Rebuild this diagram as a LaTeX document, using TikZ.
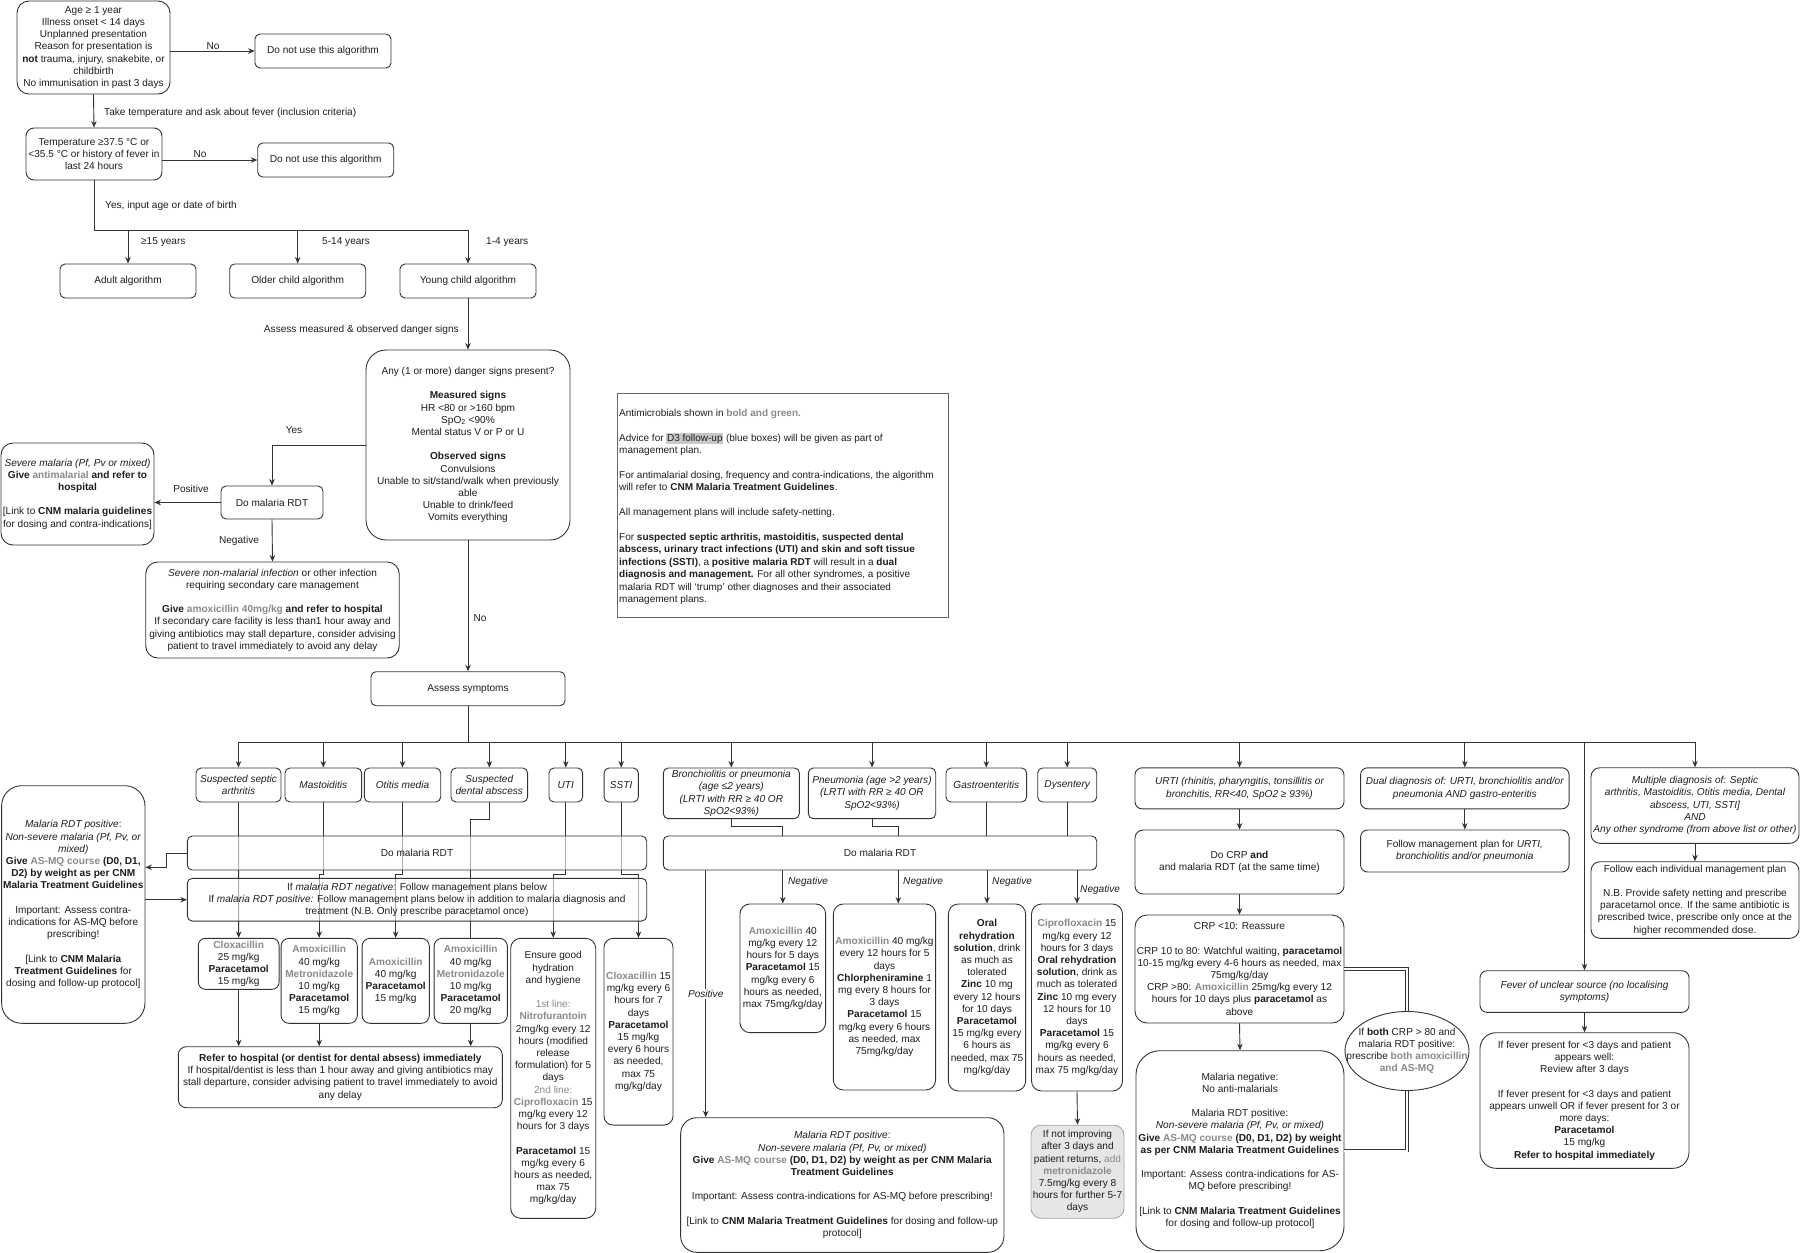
\documentclass[tikz,border=0pt]{standalone}
\usepackage{fontspec}
\setmainfont{Liberation Sans}
\usetikzlibrary{arrows.meta,shapes.geometric,backgrounds}

\definecolor{ink}{HTML}{1E1E1E}
\definecolor{edge}{HTML}{333333}
\definecolor{drugc}{HTML}{8A8A8A}
\definecolor{hilite}{HTML}{C8C8C8}
\definecolor{greyfill}{HTML}{E6E6E6}
\definecolor{legbord}{HTML}{666666}

\newcommand{\boxfont}{\fontsize{10.1}{12.2}\selectfont}
\newcommand{\drug}[1]{\textbf{\color{drugc}#1}}

\begin{document}
\begin{tikzpicture}[x=1pt, y=-1pt,
    box/.style={draw=edge, line width=0.9pt, rounded corners=5pt, fill=white, align=center, font=\boxfont, text=ink, inner sep=1pt},
    cat/.style={box, font=\boxfont\itshape},
    dim/.style 2 args={minimum width=#1pt, minimum height=#2pt},
    seethru/.style={fill opacity=0.6, text opacity=1},
    conn/.style={draw=edge, line width=0.9pt},
    arr/.style={conn, -{Stealth[length=6.5pt,width=5.5pt]}},
    dbl/.style={draw=edge, line width=0.6pt, double=white, double distance=2.2pt},
    lab/.style={font=\boxfont, text=ink, inner sep=1pt},
  ]
  \useasboundingbox (0,0) rectangle (1800,1253);

    \node[box, rounded corners=12pt, dim={153}{93}] (crit) at (93.5, 47.5) {Age ≥ 1 year\\ Illness onset < 14 days\\ Unplanned presentation\\ Reason for presentation is\\ \textbf{not} trauma, injury, snakebite, or\\ childbirth\\ No immunisation in past 3 days};
    \node[box, dim={136}{34}] (nouse1) at (323, 51) {Do not use this algorithm};
    \node[box, rounded corners=8pt, dim={136}{52}] (temp) at (94, 154) {Temperature ≥37.5 °C or\\ <35.5 °C or history of fever in\\ last 24 hours};
    \node[box, dim={136}{34}] (nouse2) at (325.7, 160) {Do not use this algorithm};

    \node[box, dim={136}{34}] (adult) at (128, 281) {Adult algorithm};
    \node[box, dim={136}{34}] (older) at (297.7, 281) {Older child algorithm};
    \node[box, dim={136}{34}] (young) at (468, 281) {Young child algorithm};

    \node[box, rounded corners=20pt, dim={204}{190}] (danger) at (468, 445) {Any (1 or more) danger signs present?\\[12.2pt] \textbf{Measured signs}\\ HR <80 or >160 bpm\\ SpO\textsubscript{2} <90\%\\ Mental status V or P or U\\[12.2pt] \textbf{Observed signs}\\ Convulsions\\ Unable to sit/stand/walk when previously\\ able\\ Unable to drink/feed\\ Vomits everything};
    \node[box, dim={102}{33}] (rdt) at (272, 502.5) {Do malaria RDT};
    \node[box, rounded corners=12pt, dim={153}{102}] (sevmal) at (77.5, 494) {\textit{Severe malaria (Pf, Pv or mixed)}\\ \textbf{Give \drug{antimalarial} and refer to}\\ \textbf{hospital}\\[12.2pt] {[}Link to \textbf{CNM malaria guidelines}\\ for dosing and contra-indications]};
    \node[box, rounded corners=12pt, dim={253.5}{96}] (sevnon) at (272.5, 610) {\textit{Severe non-malarial infection} or other infection\\ requiring secondary care management\\[12.2pt] \textbf{Give \drug{amoxicillin 40mg/kg} and refer to hospital}\\ If secondary care facility is less than1 hour away and\\ giving antibiotics may stall departure, consider advising\\ patient to travel immediately to avoid any delay};
    \node[box, dim={194}{34}] (assess) at (468, 688.7) {Assess symptoms};

    \node[draw=legbord, line width=0.9pt, dim={331}{224}] (legend) at (782.5, 505) {};
    \node[anchor=north west, inner sep=0pt, align=left, font=\fontsize{10}{12.4}\selectfont, text=ink] (legtext) at (619, 409) {Antimicrobials shown in \drug{bold and green.}\\[12.4pt]
      Advice for {\setlength{\fboxsep}{0.6pt}\colorbox{hilite}{D3 follow-up}} (blue boxes) will be given as part of\\
      management plan.\\[12.4pt]
      For antimalarial dosing, frequency and contra-indications, the algorithm\\
      will refer to \textbf{CNM Malaria Treatment Guidelines}.\\[12.4pt]
      All management plans will include safety-netting.\\[12.4pt]
      For \textbf{suspected septic arthritis, mastoiditis, suspected dental}\\
      \textbf{abscess, urinary tract infections (UTI) and skin and soft tissue}\\
      \textbf{infections (SSTI)}, a \textbf{positive malaria RDT} will result in a \textbf{dual}\\
      \textbf{diagnosis and management.} For all other syndromes, a positive\\
      malaria RDT will `trump' other diagnoses and their associated\\
      management plans.};

    \node[cat, dim={85}{34}] (septic) at (238.5, 785) {Suspected septic\\ arthritis};
    \node[cat, dim={76.7}{34}] (mast) at (323.3, 785) {Mastoiditis};
    \node[cat, dim={76.4}{34}] (otitis) at (402.5, 785) {Otitis media};
    \node[cat, dim={76.7}{34}] (dental) at (489.3, 785) {Suspected\\ dental abscess};
    \node[cat, dim={33.7}{34}] (uti) at (565.8, 785) {UTI};
    \node[cat, dim={34.3}{34}] (ssti) at (621.2, 785) {SSTI};
    \node[cat, dim={136}{50.7}] (bronch) at (731.3, 793.3) {Bronchiolitis or pneumonia\\ (age ≤2 years)\\ (LRTI with RR ≥ 40 OR\\ SpO2<93\%)};
    \node[cat, dim={127.4}{50.7}] (pneu) at (872, 793.3) {Pneumonia (age >2 years)\\ (LRTI with RR ≥ 40 OR\\ SpO2<93\%)};
    \node[cat, dim={80.7}{34}] (gastro) at (986.3, 785) {Gastroenteritis};
    \node[cat, dim={59}{34}] (dysen) at (1067.2, 785) {Dysentery};
    \node[cat, rounded corners=7pt, dim={209}{41}] (urti) at (1239.5, 788.3) {URTI (rhinitis, pharyngitis, tonsillitis or\\ bronchitis, RR<40, SpO2 ≥ 93\%)};
    \node[cat, rounded corners=7pt, dim={208.5}{41}] (dual) at (1464.8, 788.3) {Dual diagnosis of: URTI, bronchiolitis and/or\\ pneumonia AND gastro-enteritis};
    \node[cat, rounded corners=9pt, dim={208}{75.6}] (multi) at (1695, 805.5) {Multiple diagnosis of: Septic\\ arthritis, Mastoiditis, Otitis media, Dental\\ abscess, UTI, SSTI]\\ AND\\ Any other syndrome (from above list or other)};

    \node[box, seethru, dim={459.4}{34}] (rdt1) at (417, 853) {Do malaria RDT};
    \node[box, seethru, dim={459.4}{42.7}] (note) at (417, 899.7) {If \textit{malaria RDT negative:} Follow management plans below\\ If \textit{malaria RDT positive:} Follow management plans below in addition to malaria diagnosis and\\ treatment (N.B. Only prescribe paracetamol once)};
    \node[box, rounded corners=20pt, dim={143.3}{237.6}] (malL) at (73.3, 904.5) {\textit{Malaria RDT positive}:\\ \textit{Non-severe malaria (Pf, Pv, or}\\ \textit{mixed)}\\ \textbf{Give \drug{AS-MQ course} (D0, D1,}\\ \textbf{D2) by weight as per CNM}\\ \textbf{Malaria Treatment Guidelines}\\[12.2pt] Important: Assess contra-\\ indications for AS-MQ before\\ prescribing!\\[12.2pt] {[}Link to \textbf{CNM Malaria}\\ \textbf{Treatment Guidelines} for\\ dosing and follow-up protocol]};

    \node[box, rounded corners=7pt, dim={80.7}{51}] (clox) at (238.7, 963.8) {\drug{Cloxacillin}\\ 25 mg/kg\\ \textbf{Paracetamol}\\ 15 mg/kg};
    \node[box, rounded corners=8pt, dim={76.3}{85}] (amoxmet) at (319.2, 980.8) {\drug{Amoxicillin}\\ 40 mg/kg\\ \drug{Metronidazole}\\ 10 mg/kg\\ \textbf{Paracetamol}\\ 15 mg/kg};
    \node[box, rounded corners=8pt, dim={67.3}{85}] (amoxpar) at (395.7, 980.8) {\drug{Amoxicillin}\\ 40 mg/kg\\ \textbf{Paracetamol}\\ 15 mg/kg};
    \node[box, rounded corners=8pt, dim={73.3}{85}] (dentrx) at (470.7, 980.8) {\drug{Amoxicillin}\\ 40 mg/kg\\ \drug{Metronidazole}\\ 10 mg/kg\\ \textbf{Paracetamol}\\ 20 mg/kg};
    \node[box, rounded corners=10pt, dim={85}{280}] (utirx) at (553.2, 1078.3) {Ensure good\\ hydration\\ and hygiene\\[12.2pt] {\color{drugc}1st line:}\\ \drug{Nitrofurantoin}\\ 2mg/kg every 12\\ hours (modified\\ release\\ formulation) for 5\\ days\\ {\color{drugc}2nd line:}\\ \drug{Ciprofloxacin} 15\\ mg/kg every 12\\ hours for 3 days\\[12.2pt] \textbf{Paracetamol} 15\\ mg/kg every 6\\ hours as needed,\\ max 75\\ mg/kg/day};
    \node[box, rounded corners=9pt, dim={69}{186.7}] (sstirx) at (638.5, 1031.7) {\drug{Cloxacillin} 15\\ mg/kg every 6\\ hours for 7\\ days\\ \textbf{Paracetamol}\\ 15 mg/kg\\ every 6 hours\\ as needed,\\ max 75\\ mg/kg/day};
    \node[box, rounded corners=8pt, dim={324}{61}] (refer) at (340.3, 1077.2) {\textbf{Refer to hospital (or dentist for dental absess) immediately}\\ If hospital/dentist is less than 1 hour away and giving antibiotics may\\ stall departure, consider advising patient to travel immediately to avoid\\ any delay};

    \node[box, dim={433.4}{34}] (rdt2) at (880, 853) {Do malaria RDT};
    \node[box, rounded corners=10pt, dim={85.7}{128.7}] (amoxrx) at (782.8, 968.3) {\drug{Amoxicillin} 40\\ mg/kg every 12\\ hours for 5 days\\ \textbf{Paracetamol} 15\\ mg/kg every 6\\ hours as needed,\\ max 75mg/kg/day};
    \node[box, rounded corners=10pt, dim={102.3}{186}] (chlorrx) at (884.5, 997) {\drug{Amoxicillin} 40 mg/kg\\ every 12 hours for 5\\ days\\ \textbf{Chlorpheniramine} 1\\ mg every 8 hours for\\ 3 days\\ \textbf{Paracetamol} 15\\ mg/kg every 6 hours\\ as needed, max\\ 75mg/kg/day};
    \node[box, rounded corners=10pt, dim={77.3}{187}] (orsrx) at (987, 997.5) {\textbf{Oral}\\ \textbf{rehydration}\\ \textbf{solution}, drink\\ as much as\\ tolerated\\ \textbf{Zinc} 10 mg\\ every 12 hours\\ for 10 days\\ \textbf{Paracetamol}\\ 15 mg/kg every\\ 6 hours as\\ needed, max 75\\ mg/kg/day};
    \node[box, rounded corners=10pt, dim={91}{187}] (ciprorx) at (1077, 997.5) {\drug{Ciprofloxacin} 15\\ mg/kg every 12\\ hours for 3 days\\ \textbf{Oral rehydration}\\ \textbf{solution}, drink as\\ much as tolerated\\ \textbf{Zinc} 10 mg every\\ 12 hours for 10\\ days\\ \textbf{Paracetamol} 15\\ mg/kg every 6\\ hours as needed,\\ max 75 mg/kg/day};
    \node[box, draw=gray!70, fill=greyfill, rounded corners=10pt, dim={93}{93}] (greyrx) at (1077.5, 1171.7) {If not improving\\ after 3 days and\\ patient returns, {\color{drugc}add}\\ \drug{metronidazole}\\ 7.5mg/kg every 8\\ hours for further 5-7\\ days};
    \node[box, rounded corners=16pt, dim={323.3}{134.6}] (malpos) at (842.3, 1185) {\textit{Malaria RDT positive}:\\ \textit{Non-severe malaria (Pf, Pv, or mixed)}\\ \textbf{Give \drug{AS-MQ course} (D0, D1, D2) by weight as per CNM Malaria}\\ \textbf{Treatment Guidelines}\\[12.2pt] Important: Assess contra-indications for AS-MQ before prescribing!\\[12.2pt] {[}Link to \textbf{CNM Malaria Treatment Guidelines} for dosing and follow-up\\ protocol]};

    \node[box, rounded corners=8pt, dim={209}{64}] (crp) at (1239.5, 862) {Do CRP \textbf{and}\\ and malaria RDT (at the same time)};
    \node[box, rounded corners=12pt, dim={209}{108}] (crpres) at (1239.5, 969) {CRP <10: Reassure\\[12.2pt] CRP 10 to 80: Watchful waiting, \textbf{paracetamol}\\ 10-15 mg/kg every 4-6 hours as needed, max\\ 75mg/kg/day\\ CRP >80: \drug{Amoxicillin} 25mg/kg every 12\\ hours for 10 days plus \textbf{paracetamol} as\\ above};
    \node[box, rounded corners=24pt, dim={208}{200}] (malneg) at (1240, 1150.7) {Malaria negative:\\ No anti-malarials\\[12.2pt] Malaria RDT positive:\\ \textit{Non-severe malaria (Pf, Pv, or mixed)}\\ \textbf{Give \drug{AS-MQ course} (D0, D1, D2) by weight}\\ \textbf{as per CNM Malaria Treatment Guidelines}\\[12.2pt] Important: Assess contra-indications for AS-\\ MQ before prescribing!\\[12.2pt] {[}Link to \textbf{CNM Malaria Treatment Guidelines}\\ for dosing and follow-up protocol]};
    \node[draw=edge, line width=0.9pt, fill=white, ellipse, inner sep=0pt, dim={124}{79}] (both) at (1407, 1051) {};
    \node[lab, align=center] (bothtxt) at (1407, 1051) {If \textbf{both} CRP > 80 and\\ malaria RDT positive:\\ prescribe \drug{both amoxicillin}\\ \drug{and AS-MQ}};

    \node[box, rounded corners=7pt, dim={208.5}{42}] (dualrx) at (1464.8, 851) {Follow management plan for \textit{URTI,}\\ \textit{bronchiolitis and/or pneumonia}};
    \node[box, rounded corners=9pt, dim={208}{76.6}] (follow) at (1695, 900) {Follow each individual management plan\\[12.2pt] N.B. Provide safety netting and prescribe\\ paracetamol once. If the same antibiotic is\\ prescribed twice, prescribe only once at the\\ higher recommended dose.};
    \node[cat, rounded corners=7pt, dim={209}{41.6}] (unclear) at (1584.5, 991.5) {Fever of unclear source (no localising\\ symptoms)};
    \node[box, rounded corners=16pt, dim={209}{135.6}] (fever) at (1584.5, 1100.5) {If fever present for <3 days and patient\\ appears well:\\ Review after 3 days\\[12.2pt] If fever present for <3 days and patient\\ appears unwell OR if fever present for 3 or\\ more days:\\ \textbf{Paracetamol}\\ 15 mg/kg\\ \textbf{Refer to hospital immediately}};

    \coordinate (ag) at (0, 230);
    \coordinate (br) at (0, 742);
    \coordinate (jg) at (0, 874);
    \coordinate (dj) at (0, 819.3);
    \coordinate (lj) at (166.7, 867.3);
    \coordinate (bj) at (782.7, 826.7);
    \coordinate (pj) at (898.3, 826.7);
    \coordinate (pp) at (705.7, 0);

    \draw[arr] (crit.east |- nouse1.west) -- (nouse1.west);
    \draw[arr] (crit.south) -- (temp.north);
    \draw[arr] (temp.east |- nouse2.west) -- (nouse2.west);
    \draw[conn] (temp.south) -- (temp.south |- ag) -- (young.north |- ag);
    \foreach \n in {adult,older,young}
      \draw[arr] (\n.north |- ag) -- (\n.north);
    \draw[arr] (young.south) -- (danger.north);
    \draw[arr] (danger.west) -| (rdt.north);
    \draw[arr] (rdt.west) -- (rdt.west -| sevmal.east);
    \draw[arr] (rdt.south) -- (sevnon.north);
    \draw[arr] (danger.south) -- (assess.north);

    \draw[conn] (assess.south) -- (assess.south |- br);
    \draw[conn] (septic.north |- br) -- (multi.north |- br);
    \foreach \n in {septic,mast,otitis,dental,uti,ssti,bronch,pneu,gastro,dysen,urti,dual,unclear,multi}
      \draw[arr] (\n.north |- br) -- (\n.north);

    \begin{pgfonlayer}{background}
      \draw[arr] (septic.south) -- (clox.north);
      \draw[arr] (mast.south) -- (mast.south |- jg) -| (amoxmet.north);
      \draw[arr] (otitis.south) -- (otitis.south |- jg) -| (amoxpar.north);
      \draw[conn] (dental.south) -- (dental.south |- dj) -| (dentrx.north);
      \draw[arr] (uti.south) -- (uti.south |- jg) -| (utirx.north);
      \draw[arr] (ssti.south) -- (ssti.south |- jg) -| (sstirx.north);
    \end{pgfonlayer}

    \draw[arr] (clox.south) -- (clox.south |- refer.north);
    \draw[arr] (amoxmet.south) -- (amoxmet.south |- refer.north);
    \draw[arr] (dentrx.south) -- (dentrx.south |- refer.north);
    \draw[arr] (rdt1.west) -| (lj) -- (lj -| malL.east);
    \draw[arr] (malL.east |- note.west) -- (note.west);

    \draw[conn] (bronch.south) |- (bj) -- (bj |- rdt2.north);
    \draw[conn] (pneu.south) |- (pj) -- (pj |- rdt2.north);
    \draw[conn] (gastro.south) -- (gastro.south |- rdt2.north);
    \draw[conn] (dysen.south) -- (dysen.south |- rdt2.north);
    \draw[arr] (rdt2.south -| amoxrx.north) -- (amoxrx.north);
    \draw[arr] (rdt2.south -| pj) -- (pj |- chlorrx.north);
    \draw[arr] (rdt2.south -| orsrx.north) -- (orsrx.north);
    \draw[arr] (rdt2.south -| ciprorx.north) -- (ciprorx.north);
    \draw[arr] (rdt2.south -| pp) -- (pp |- malpos.north) node[lab, font=\boxfont\itshape, fill=white, pos=0.5] (poslab) {Positive};
    \draw[arr] (ciprorx.south) -- (greyrx.north);

    \draw[arr] (urti.south) -- (crp.north);
    \draw[arr] (crp.south) -- (crpres.north);
    \draw[arr] (crpres.south) -- (malneg.north);
    \draw[dbl] (crpres.east) -| (both.north);
    \draw[dbl] (both.south) |- (malneg.east);
    \draw[arr] (dual.south) -- (dualrx.north);
    \draw[arr] (multi.south) -- (follow.north);
    \draw[arr] (unclear.south) -- (fever.north);

    \node[lab] (no1) at (213, 46) {No};
    \node[lab, anchor=west] (takelab) at (103, 113) {Take temperature and ask about fever (inclusion criteria)};
    \node[lab] (no2) at (200, 154) {No};
    \node[lab, anchor=west] (yeslab) at (104, 206) {Yes, input age or date of birth};
    \node[lab, anchor=west] (y15) at (140, 242) {≥15 years};
    \node[lab, anchor=west] (y5) at (321, 242) {5-14 years};
    \node[lab, anchor=west] (y1) at (485, 242) {1-4 years};
    \node[lab, anchor=east] (asslab) at (460, 330) {Assess measured \& observed danger signs};
    \node[lab] (yes2) at (294, 430) {Yes};
    \node[lab] (poslab1) at (191, 489) {Positive};
    \node[lab] (neglab1) at (239, 541) {Negative};
    \node[lab] (no3) at (480, 618) {No};
    \node[lab, font=\boxfont\itshape, anchor=west] (neg1) at (787, 882) {Negative};
    \node[lab, font=\boxfont\itshape, anchor=west] (neg2) at (902, 882) {Negative};
    \node[lab, font=\boxfont\itshape, anchor=west] (neg3) at (991, 882) {Negative};
    \node[lab, font=\boxfont\itshape, anchor=west] (neg4) at (1079, 890) {Negative};

  \end{tikzpicture}
\end{document}
